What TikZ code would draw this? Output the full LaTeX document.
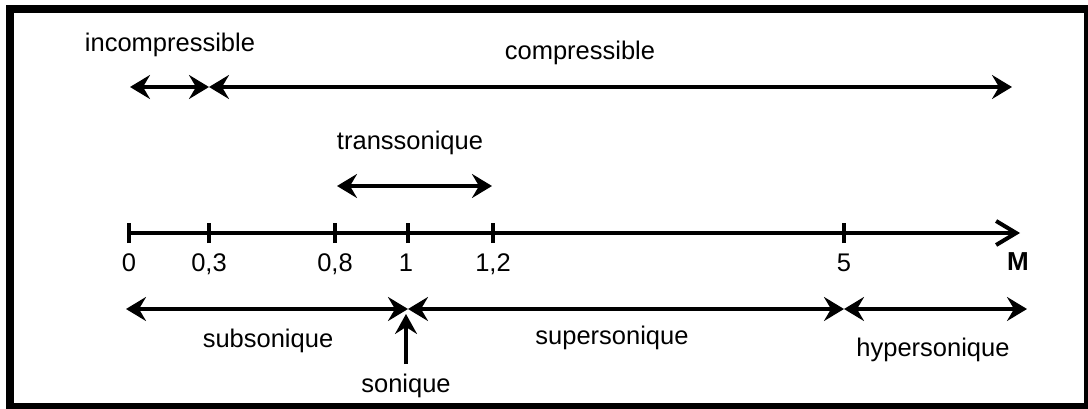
\documentclass[tikz,border=0pt]{standalone}
\usepackage{fontspec}
\setmainfont{Liberation Sans}
\usetikzlibrary{arrows.meta}
\begin{document}
\begin{tikzpicture}[x=1pt,y=-1pt,
  lbl/.style={anchor=base,inner sep=0pt,font=\fontsize{25.5}{30}\selectfont},
  rng/.style={line width=3.2pt,{Stealth[length=20pt,width=24pt,inset=7pt]}-{Stealth[length=20pt,width=24pt,inset=7pt]}},
  tickmark/.style={line width=4.8pt},
  axisline/.style={line width=4pt,-{Straight Barb[length=20pt,width=24pt,line width=4pt]}}]
\useasboundingbox (0,0) rectangle (1088,409);
\clip (0,0) rectangle (1088,409);
\draw[line width=8pt] (10,9) rectangle (1088,407);
% axis coordinates
\coordinate (a0) at (129,233);
\coordinate (a03) at (209,233);
\coordinate (a08) at (335,233);
\coordinate (a1) at (408,233);
\coordinate (a12) at (493,233);
\coordinate (a5) at (844,233);
\coordinate (aend) at (1020,233);
\draw[axisline] (a0) -- (aend);
\foreach \t in {a0,a03,a08,a1,a12,a5}
  \draw[tickmark] ([yshift=-10pt]\t) -- ([yshift=10pt]\t);
% tick labels
\node[lbl] (l0) at (129,272) {0};
\node[lbl] (l03) at (209,272) {0,3};
\node[lbl] (l08) at (335,272) {0,8};
\node[lbl] (l1) at (406,272) {1};
\node[lbl] (l12) at (493,272) {1,2};
\node[lbl] (l5) at (844,272) {5};
\node[lbl,font=\fontsize{26}{30}\selectfont\bfseries] (lM) at (1018,270) {M};
% top ranges
\coordinate (i0) at (130,87);
\coordinate (i1) at (209,87);
\coordinate (c1) at (1012,87);
\draw[rng] (i0) -- (i1);
\draw[rng] (i1) -- (c1);
\node[lbl] (tinc) at (170,52) {incompressible};
\node[lbl] (tcomp) at (580,60) {compressible};
\coordinate (t0) at (337,186);
\coordinate (t1) at (492,186);
\draw[rng] (t0) -- (t1);
\node[lbl] (ttrans) at (410,150) {transsonique};
% bottom ranges
\coordinate (b0) at (126,309);
\coordinate (b1) at (408,309);
\coordinate (b5) at (844,309);
\coordinate (bend) at (1027,309);
\draw[rng] (b0) -- (b1);
\draw[rng] (b1) -- (b5);
\draw[rng] (b5) -- (bend);
\node[lbl] (tsub) at (268,347) {subsonique};
\node[lbl] (tsup) at (612,344) {supersonique};
\node[lbl] (thyp) at (933,356) {hypersonique};
\node[lbl] (tson) at (406,392) {sonique};
\coordinate (s0) at (406,364);
\coordinate (s1) at (406,314);
\draw[line width=3.2pt,-{Stealth[length=20pt,width=22pt,inset=7pt]}] (s0) -- (s1);
\end{tikzpicture}
\end{document}
